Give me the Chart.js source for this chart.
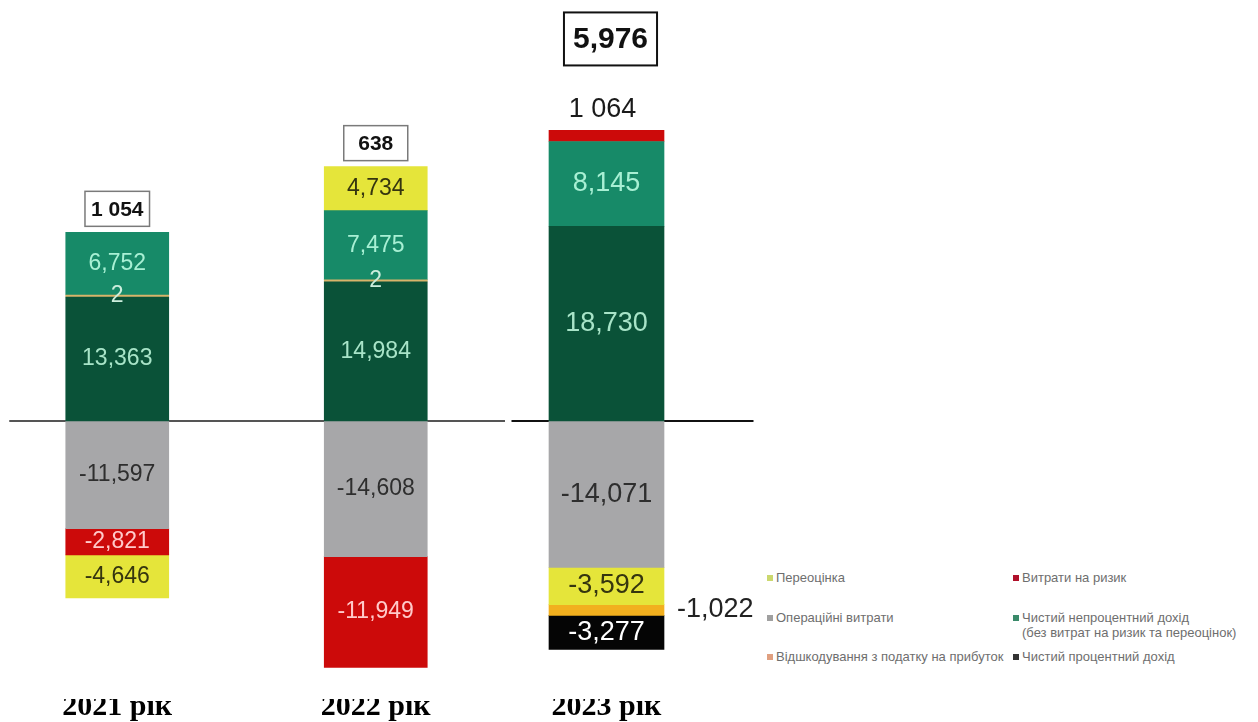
<!DOCTYPE html>
<html lang="uk">
<head>
  <meta charset="UTF-8" />
  <title>Фінансовий результат 2021–2023</title>
  <script src="https://cdn.jsdelivr.net/npm/chart.js"></script>
  <style>
    body {
      margin: 0;
      width: 1258px;
      height: 722px;
      overflow: hidden;
      background: #fff;
      position: relative;
      font-family: 'Liberation Sans', Arial, sans-serif;
    }
    canvas {
      position: absolute;
      top: 0;
    }
    #chartA { left: -12px; }
    #chartB { left: 456px; }
    .legend-item {
      position: absolute;
      font-size: 13px;
      line-height: 15px;
      color: #6e6e6e;
      white-space: pre;
      padding-left: 9px;
    }
    .legend-item span {
      position: absolute;
      left: 0;
      top: 5px;
      width: 6px;
      height: 6px;
    }
  </style>
</head>
<body>
<canvas id="chartA" width="517" height="722"></canvas>
<canvas id="chartB" width="301" height="722"></canvas>
<div id="legend"></div>

<script>
// --- data (млн грн) ---
const years = ['2021 рік', '2022 рік', '2023 рік'];
const netInterest = [13363, 14984, 18730];
const taxRefund = [2, 2, -1022];
const nonInterest = [6752, 7475, 8145];
const revaluation = [-4646, 4734, -3592];
const riskCosts = [-2821, -11949, 1064];
const opex = [-11597, -14608, -14071];
const otherNeg = [null, null, -3277];
const netResult = ['1 054', '638', '5,976'];

// --- series styles ---
const series = {
  netInterest: { label: 'Чистий процентний дохід', data: netInterest, color: '#0a5238', text: '#a8e4c8' },
  taxRefund:   { label: 'Відшкодування з податку на прибуток', data: taxRefund, color: '#f2b01e', text: '#cdeedd' },
  nonInterest: { label: 'Чистий непроцентний дохід\n(без витрат на ризик та переоцінок)', data: nonInterest, color: '#178a68', text: '#a8f0d4' },
  revaluation: { label: 'Переоцінка', data: revaluation, color: '#e5e53a', text: '#35350f' },
  riskCosts:   { label: 'Витрати на ризик', data: riskCosts, color: '#cc0a0a', text: '#ffcaca' },
  opex:        { label: 'Операційні витрати', data: opex, color: '#a7a7a9', text: '#2e2e2e' },
  otherNeg:    { label: '', data: otherNeg, color: '#050505', text: '#ffffff' }
};

// two pasted panels with their own scale: 2021–2022 and 2023
const panels = [
  {
    id: 'chartA', from: 0, to: 2,
    order: ['netInterest', 'taxRefund', 'nonInterest', 'opex', 'riskCosts', 'revaluation'],
    yMin: -32435, yMax: 45366, barW: 103, font: 23,
    special: { taxRefund: 'small' },
    line: { from: -108, to: 131, color: '#555' },
    box: { gap: 6, h: 35, padX: 6, minW: 64, dx: 0, font: 'bold 21px "Liberation Sans"', lw: 1.5, color: '#7a7a7a' }
  },
  {
    id: 'chartB', from: 2, to: 3,
    order: ['netInterest', 'nonInterest', 'riskCosts', 'opex', 'revaluation', 'taxRefund', 'otherNeg'],
    yMin: -28942, yMax: 40481, barW: 115, font: 27,
    special: { riskCosts: 'above', taxRefund: 'right' },
    line: { from: -95, to: 147, color: '#111' },
    box: { gap: 65, h: 53, padX: 9, minW: 0, dx: 4, font: 'bold 30px "Liberation Sans"', lw: 2, color: '#111' }
  }
];

const fmt = v => v.toLocaleString('en-US');

const decorPlugin = {
  id: 'decor',
  beforeDatasetsDraw(chart, args, o) {
    const ctx = chart.ctx;
    const bars = chart.getDatasetMeta(0).data;
    const yz = Math.round(chart.scales.y.getPixelForValue(0));
    ctx.save();
    ctx.strokeStyle = o.line.color;
    ctx.lineWidth = 2;
    ctx.beginPath();
    ctx.moveTo(bars[0].x + o.line.from, yz);
    ctx.lineTo(bars[bars.length - 1].x + o.line.to, yz);
    ctx.stroke();
    ctx.restore();
  },
  afterDatasetsDraw(chart, args, o) {
    const ctx = chart.ctx;
    ctx.save();
    ctx.textAlign = 'center';
    ctx.textBaseline = 'middle';
    const tops = [];
    chart.data.datasets.forEach((ds, di) => {
      const meta = chart.getDatasetMeta(di);
      meta.data.forEach((bar, i) => {
        const v = ds.data[i];
        if (v == null) return;
        if (v > 0) tops[i] = Math.min(tops[i] ?? Infinity, bar.y);
        const mode = o.special[ds.key];
        const cy = (bar.y + bar.base) / 2;
        ctx.font = o.font + 'px "Liberation Sans"';
        if (mode === 'above') {
          ctx.fillStyle = '#1a1a1a';
          ctx.fillText(fmt(v).replace(',', ' '), bar.x - 4, Math.min(bar.y, bar.base) - 21);
        } else if (mode === 'right') {
          ctx.fillStyle = '#222';
          ctx.textAlign = 'left';
          ctx.fillText(fmt(v), bar.x + bar.width / 2 + 13, cy);
          ctx.textAlign = 'center';
        } else {
          ctx.fillStyle = ds.textColor;
          ctx.fillText(fmt(v), bar.x, cy);
        }
      });
    });

    // boxed net result above each stack
    const b = o.box;
    const bars = chart.getDatasetMeta(0).data;
    bars.forEach((bar, i) => {
      const txt = o.net[i];
      ctx.font = b.font;
      const w = Math.max(ctx.measureText(txt).width + 2 * b.padX, b.minW);
      const cx = bar.x + b.dx;
      const bottom = tops[i] - b.gap;
      ctx.fillStyle = '#fff';
      ctx.fillRect(cx - w / 2, bottom - b.h, w, b.h);
      ctx.strokeStyle = b.color;
      ctx.lineWidth = b.lw;
      ctx.strokeRect(cx - w / 2, bottom - b.h, w, b.h);
      ctx.fillStyle = '#111';
      ctx.fillText(txt, cx, bottom - b.h / 2 + 1);
    });

    // year captions, top slightly cut off like the source
    ctx.beginPath();
    ctx.rect(0, 699, chart.width, 23);
    ctx.clip();
    ctx.font = 'bold 30px "Liberation Serif"';
    ctx.fillStyle = '#000';
    ctx.textBaseline = 'alphabetic';
    bars.forEach((bar, i) => ctx.fillText(o.years[i], bar.x, 715));
    ctx.restore();
  }
};

panels.forEach(p => {
  const datasets = p.order.map(key => {
    const s = series[key];
    return {
      key: key,
      label: s.label,
      data: s.data.slice(p.from, p.to),
      backgroundColor: key === 'taxRefund' && p.from === 0 ? '#d8b46a' : s.color,
      textColor: s.text,
      borderWidth: 0,
      barThickness: p.barW,
      minBarLength: key === 'taxRefund' ? 2 : 0
    };
  });
  new Chart(document.getElementById(p.id), {
    type: 'bar',
    data: { labels: years.slice(p.from, p.to), datasets: datasets },
    options: {
      responsive: false,
      animation: false,
      layout: { padding: 0 },
      scales: {
        x: { stacked: true, display: false },
        y: { stacked: true, display: false, min: p.yMin, max: p.yMax }
      },
      plugins: {
        legend: { display: false },
        tooltip: { enabled: false },
        decor: {
          line: p.line, box: p.box, font: p.font, special: p.special,
          net: netResult.slice(p.from, p.to), years: years.slice(p.from, p.to)
        }
      }
    },
    plugins: [decorPlugin]
  });
});

// legend (two columns, three rows)
const legendOrder = ['revaluation', 'riskCosts', 'opex', 'nonInterest', 'taxRefund', 'netInterest'];
const legendMarks = {
  revaluation: '#cbd86e', riskCosts: '#b0102a', opex: '#a0a0a0',
  nonInterest: '#3a8a6a', taxRefund: '#e0a080', netInterest: '#333'
};
const colLeft = [767, 1013];
const rowTop = [570, 610, 649];
const legend = document.getElementById('legend');
legendOrder.forEach((key, i) => {
  const d = document.createElement('div');
  d.className = 'legend-item';
  d.style.left = colLeft[i % 2] + 'px';
  d.style.top = rowTop[Math.floor(i / 2)] + 'px';
  d.textContent = series[key].label;
  const m = document.createElement('span');
  m.style.background = legendMarks[key];
  d.prepend(m);
  legend.appendChild(d);
});
</script>
</body>
</html>
